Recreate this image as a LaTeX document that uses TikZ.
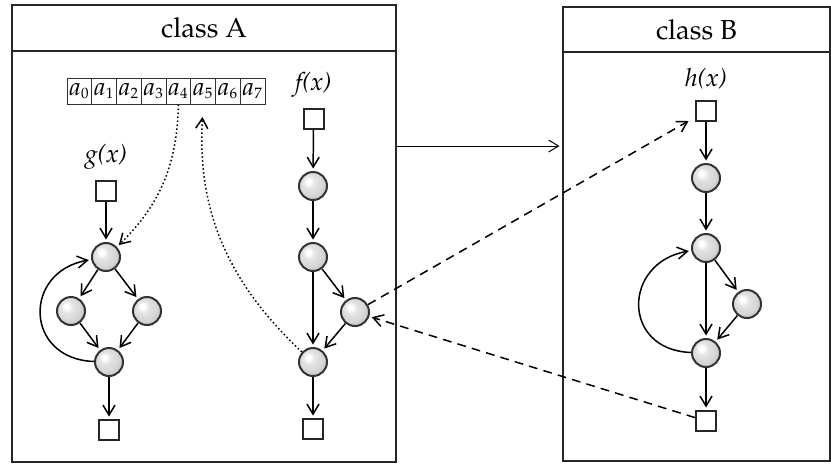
\documentclass[tikz,border=0pt]{standalone}
\usepackage[T1]{fontenc}
\usepackage{mathpazo}
\usetikzlibrary{positioning,shadings,arrows.meta}
\pgfdeclareradialshading{lightball}{\pgfqpoint{-9bp}{9bp}}{color(0bp)=(white); color(4bp)=(white); color(11bp)=(gray!22); color(22bp)=(gray!32); color(31bp)=(gray!50); color(40bp)=(gray!70); color(50bp)=(gray!70)}

\begin{document}
\begin{tikzpicture}[x=0.4pt,y=-0.4pt,->,>={Straight Barb[length=4pt,width=4.8pt]},shorten >=1pt,semithick]
\tikzstyle{ball}=[circle,draw=black!80,thick,shade,shading=lightball,minimum size=11.2pt,inner sep=0pt]
\tikzstyle{term}=[rectangle,draw=black!85,thick,fill=white,minimum size=8pt,inner sep=0pt]
\tikzstyle{cell}=[rectangle,draw=black!80,thin,minimum width=9.9pt,minimum height=10.4pt,inner sep=0pt]
\tikzstyle{classbox}=[rectangle,draw=black!85,line width=0.8pt]
\tikzstyle{header}=[classbox,anchor=north,font=\fontsize{11}{13}\selectfont]
\tikzstyle{fname}=[font=\itshape]
\tikzstyle{call}=[dash pattern=on 3.5pt off 2.5pt]
\tikzstyle{loop back}=[out=178,in=190,looseness=1.75]
\useasboundingbox (0,0) rectangle (831,463);

% the two classes
\node[classbox,minimum width=153.6pt,minimum height=182.8pt] (A) at (204,233.5) {};
\node[header,minimum width=153.6pt,minimum height=18.4pt] (Ahead) at (A.north) {class A};
\node[classbox,minimum width=106.8pt,minimum height=181.6pt] (B) at (696.5,234) {};
\node[header,minimum width=106.8pt,minimum height=18pt] (Bhead) at (B.north) {class B};

% array
\foreach \i in {0,...,7}
  \node[cell] (a\i) at ({79.4+24.75*\i},91) {$a_{\scriptscriptstyle\i}$};

% g(x)
\node[term] (gin) at (106,191) {};
\node[fname] (gname) [above=0.5pt of gin] {g(x)};
\node[ball] (g1) at (106,257) {};
\node[ball] (g2) at (71,311) {};
\node[ball] (g3) at (147,311) {};
\node[ball] (g4) at (109,362) {};
\node[term] (gout) at (109,430) {};

% f(x)
\node[term] (fin) at (313.5,119) {};
\node[fname] (fname) [above=0.5pt of fin] {f(x)};
\node[ball] (f1) at (313,186) {};
\node[ball] (f2) at (313,257) {};
\node[ball] (f3) at (355,312) {};
\node[ball] (f4) at (313,362) {};
\node[term] (fout) at (313,429) {};

% h(x)
\node[term] (hin) at (706,111) {};
\node[fname] (hname) [above=0.5pt of hin] {h(x)};
\node[ball] (h1) at (706,178) {};
\node[ball] (h2) at (706,248) {};
\node[ball] (h3) at (747,304) {};
\node[ball] (h4) at (706,353) {};
\node[term] (hout) at (706,421) {};

\path
(gin) edge (g1)
(g1) edge (g2)
(g1) edge (g3)
(g2) edge (g4)
(g3) edge (g4)
(g4) edge (gout)
(g4) edge[loop back] (g1)
(fin) edge (f1)
(f1) edge (f2)
(f2) edge (f3)
(f2) edge (f4)
(f3) edge (f4)
(f4) edge (fout)
(hin) edge (h1)
(h1) edge (h2)
(h2) edge (h3)
(h2) edge (h4)
(h3) edge (h4)
(h4) edge (hout)
(h4) edge[loop back] (h2);

% calls and memory
\draw[densely dotted] (a4.south) to[bend left=22] (g1);
\draw[densely dotted,shorten >=5pt] (f4) to[bend left=25] (a5.south);
\draw[call,shorten >=3pt] (f3) -- (hin);
\draw[call] (hout) -- (f3);
\coordinate (link) at (396,146);
\draw[thin] (link) -- (link -| B.west);
\end{tikzpicture}
\end{document}
